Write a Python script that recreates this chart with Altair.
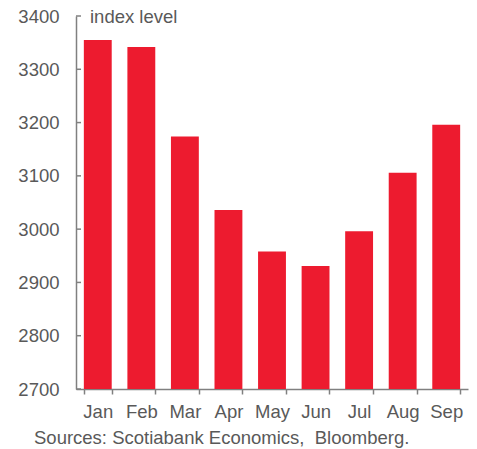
import altair as alt
import pandas as pd

months = ["Jan", "Feb", "Mar", "Apr", "May", "Jun", "Jul", "Aug", "Sep"]
values = [3355, 3342, 3174, 3036, 2958, 2931, 2996, 3106, 3196]
y_ticks = [2700, 2800, 2900, 3000, 3100, 3200, 3300, 3400]
unit_label = "index level"
source_note = "Sources: Scotiabank Economics,\u00a0 Bloomberg."

FONT = "Liberation Sans"
RED = "#ED1B2F"
AXIS = "#808080"
TEXT = "#595959"

df = pd.DataFrame({"month": months, "value": values})
ticks_df = pd.DataFrame({"tick": y_ticks})

x_enc = alt.X(
    "month:N",
    sort=months,
    scale=alt.Scale(paddingInner=0.36, paddingOuter=0.18),
    axis=alt.Axis(
        title=None, labelAngle=0, tickBand="extent", tickSize=5,
        tickColor=AXIS, tickWidth=1.5, domainColor=AXIS, domainWidth=1.5,
        labelFont=FONT, labelFontSize=18.5, labelColor=TEXT, labelPadding=8,
    ),
)
y_scale = alt.Scale(domain=[2700, 3400], zero=False, nice=False)

bars = alt.Chart(df).mark_bar(color=RED).encode(
    x=x_enc,
    y=alt.Y(
        "value:Q",
        scale=y_scale,
        axis=alt.Axis(
            title=None, values=y_ticks, format="d", tickSize=0, grid=False,
            domainColor=AXIS, domainWidth=1.5, labelPadding=17,
            labelFont=FONT, labelFontSize=18.5, labelColor=TEXT,
        ),
    ),
    y2=alt.datum(2700),
)

tick_rules = alt.Chart(ticks_df).mark_rule(color=AXIS, strokeWidth=1.5).encode(
    y=alt.Y("tick:Q", scale=y_scale),
    x=alt.value(0),
    x2=alt.value(5),
)

unit = alt.Chart(pd.DataFrame({"t": [unit_label]})).mark_text(
    align="left", baseline="alphabetic", font=FONT, fontSize=18.5, color=TEXT
).encode(text="t:N", x=alt.value(14), y=alt.value(7))

source = alt.Chart(pd.DataFrame({"t": [source_note]})).mark_text(
    align="left", baseline="alphabetic", font=FONT, fontSize=18.5, color=TEXT
).encode(text="t:N", x=alt.value(-42), y=alt.value(428))

chart = (
    alt.layer(bars, tick_rules, unit, source)
    .properties(
        width=392,
        height=373,
        autosize=alt.AutoSizeParams(type="none"),
        padding={"left": 68, "top": 8, "right": 1, "bottom": 60},
    )
    .configure_view(stroke=None)
)

chart.save("out.html", embed_options={"renderer": "svg", "actions": False})
